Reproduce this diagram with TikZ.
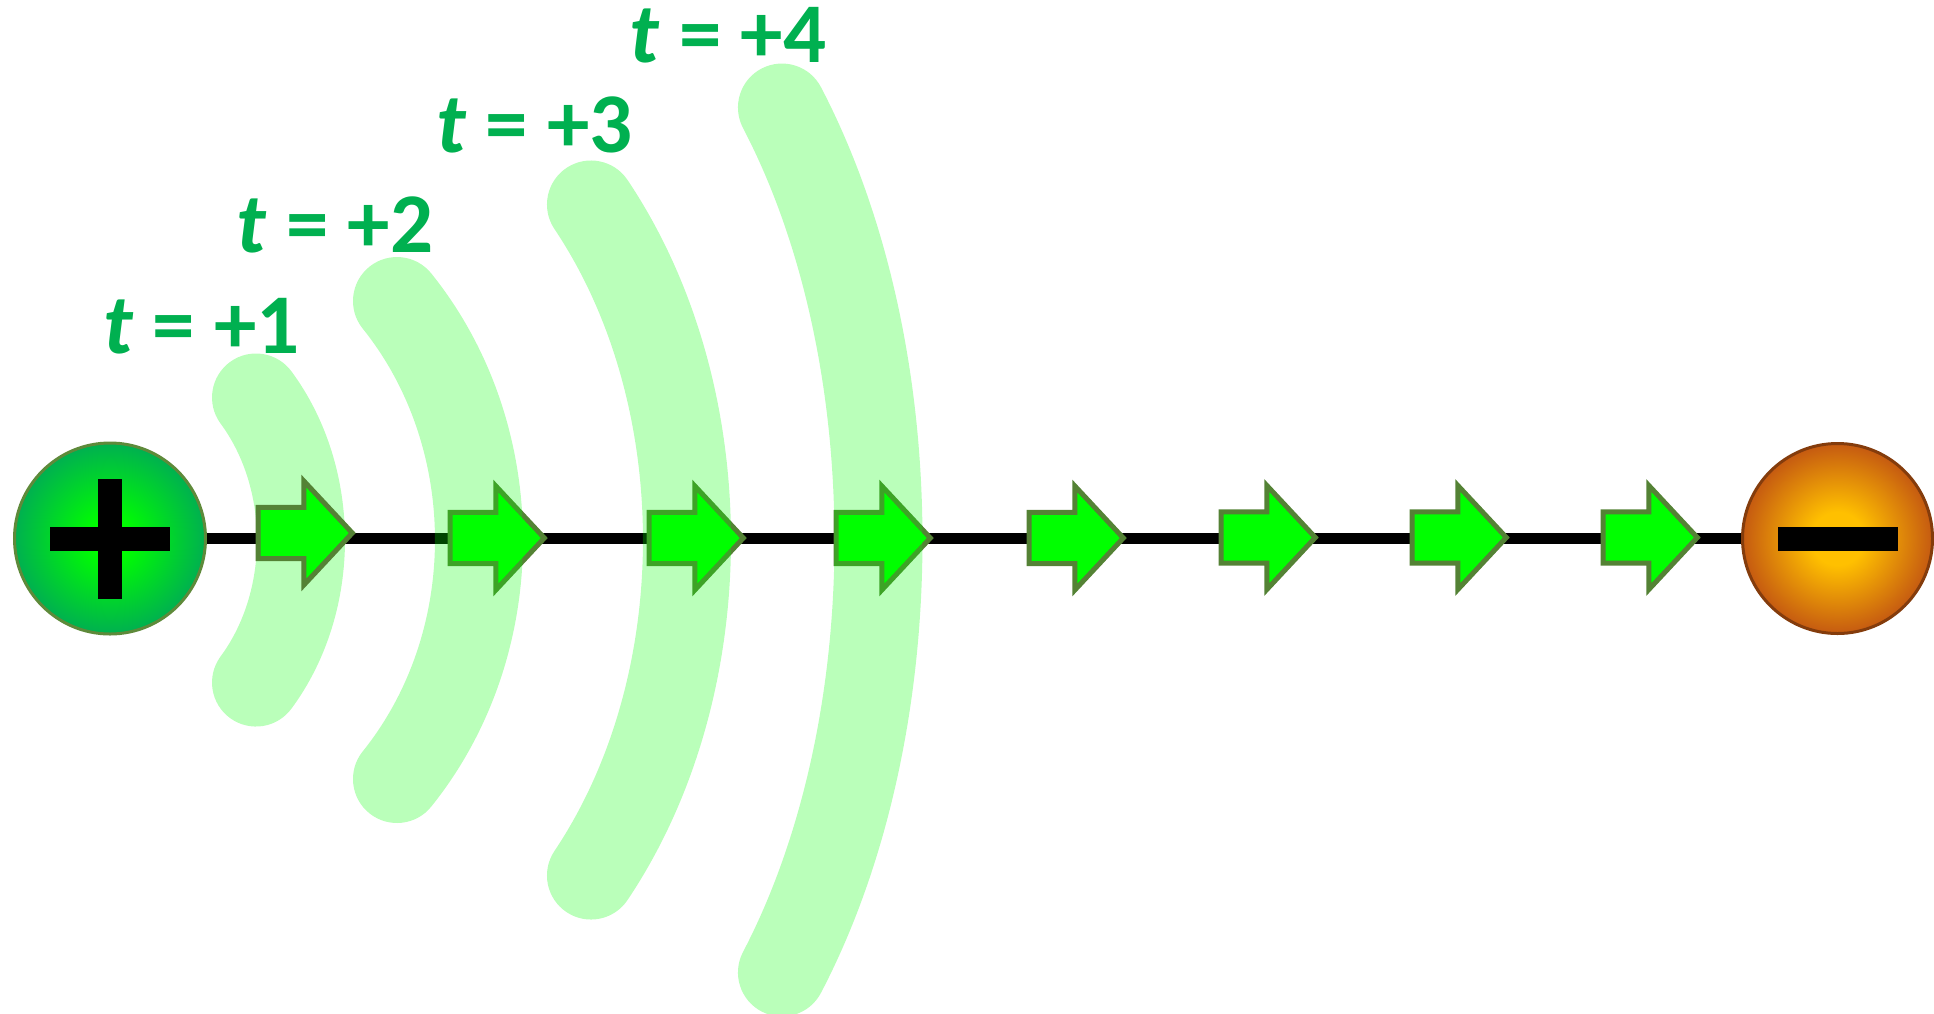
\documentclass[tikz,border=0pt]{standalone}
\usepackage{fontspec}
\setmainfont{Carlito}
\usetikzlibrary{shapes.arrows}
\definecolor{lblgreen}{HTML}{00B050}
\definecolor{arrowfill}{HTML}{00FF00}
\definecolor{arrowedge}{HTML}{548235}
\definecolor{plusin}{HTML}{00FF00}
\definecolor{plusout}{HTML}{00B050}
\definecolor{plusedge}{HTML}{5E8A3A}
\definecolor{minusin}{HTML}{FFC000}
\definecolor{minusout}{HTML}{C55A11}
\definecolor{minusedge}{HTML}{843C0C}
\definecolor{wavegreen}{HTML}{00FF00}
\pgfdeclareradialshading{plusshade}{\pgfpointorigin}{color(0bp)=(plusin); color(5bp)=(plusin); color(25bp)=(plusout); color(50bp)=(plusout)}
\pgfdeclareradialshading{minusshade}{\pgfpointorigin}{color(0bp)=(minusin); color(7bp)=(minusin); color(25bp)=(minusout); color(50bp)=(minusout)}
\begin{document}
\begin{tikzpicture}[x=1pt,y=-1pt,
 wave/.style={draw=wavegreen, draw opacity=0.27, line width=88pt, line cap=round},
 flowarrow/.style={single arrow, draw=arrowedge, fill=arrowfill, line width=5pt,
   minimum height=94.3pt, single arrow head extend=26.4pt, single arrow tip angle=94,
   inner xsep=0pt, inner ysep=23.1pt, minimum width=0pt, anchor=tail},
 charge/.style={circle, inner sep=0pt, line width=3pt},
 lbl/.style={text=lblgreen, font=\fontsize{85}{85}\selectfont\bfseries, inner sep=0pt, anchor=base west}]
\useasboundingbox (0,0) rectangle (1934,1013);

% charges
\node[charge, minimum size=191pt, draw=plusedge, shade, shading=plusshade] (plus) at (110,538.5) {};
\node[charge, minimum size=190pt, draw=minusedge, shade, shading=minusshade] (minus) at (1837.5,538.5) {};
\fill[black] (98,479) rectangle (122,599);
\fill[black] (50,527) rectangle (170,551);
\fill[black] (1778,527) rectangle (1898,551);

% wire
\draw[line width=10.5pt] (plus.east) -- (minus.west);

% first wave (under the arrows)
\draw[wave] (124,540) ++(-41.76:177 and 214) arc[start angle=-41.76, end angle=41.76, x radius=177, y radius=214];

% arrows
\node[flowarrow] (a1) at (255.5,533) {};
\node[flowarrow] (a2) at (447.5,538) {};
\node[flowarrow] (a3) at (646.5,538) {};
\node[flowarrow] (a4) at (833.5,538) {};
\node[flowarrow] (a5) at (1026.5,538) {};
\node[flowarrow] (a6) at (1218.5,537.5) {};
\node[flowarrow] (a7) at (1409.5,537.5) {};
\node[flowarrow] (a8) at (1600.5,537.5) {};

% other waves (over the arrows)
\draw[wave] (157,540) ++(-41.81:322 and 358.5) arc[start angle=-41.81, end angle=41.81, x radius=322, y radius=358.5];
\draw[wave] (310.5,540) ++(-41.84:376.5 and 503) arc[start angle=-41.84, end angle=41.84, x radius=376.5, y radius=503];
\draw[wave] (497.7,540) ++(-41.71:380.8 and 650) arc[start angle=-41.71, end angle=41.71, x radius=380.8, y radius=650];

% labels
\node[lbl] (t1) at (103,353) {\textit{t} = +1};
\node[lbl] (t2) at (236.5,252.3) {\textit{t} = +2};
\node[lbl] (t3) at (435.8,152.5) {\textit{t} = +3};
\node[lbl] (t4) at (629.5,62) {\textit{t} = +4};
\end{tikzpicture}
\end{document}
